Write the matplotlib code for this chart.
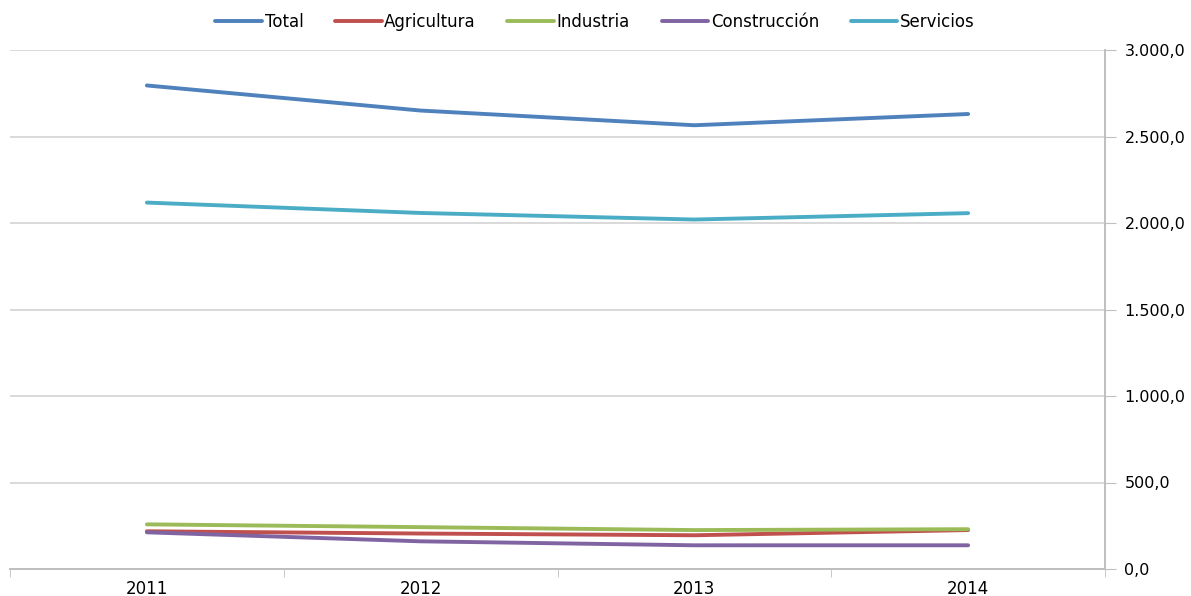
import matplotlib
matplotlib.use("Agg")
import matplotlib.pyplot as plt
from matplotlib.ticker import FuncFormatter, MultipleLocator

years = ["2011", "2012", "2013", "2014"]
total = [2795, 2650, 2565, 2630]
agricultura = [218, 205, 195, 225]
industria = [258, 242, 225, 230]
construccion = [212, 160, 137, 137]
servicios = [2118, 2058, 2020, 2057]

series = [
    ("Total", total, "#4F81BD"),
    ("Agricultura", agricultura, "#C0504D"),
    ("Industria", industria, "#9BBB59"),
    ("Construcción", construccion, "#8064A2"),
    ("Servicios", servicios, "#4BACC6"),
]

plt.rcParams['font.family'] = ['DejaVu Sans']
fig = plt.figure(figsize=(11.91, 5.96), dpi=100)
ax = fig.add_axes([10/1191, 1-569/596, (1105-10)/1191, (569-50)/596])

x = list(range(len(years)))
for name, vals, col in series:
    ax.plot(x, vals, color=col, lw=2.8, label=name, solid_capstyle='round')

ax.set_xlim(-0.5, 3.5)
ax.set_ylim(0, 3000)
ax.yaxis.set_major_locator(MultipleLocator(500))
ax.yaxis.tick_right()
ax.yaxis.set_major_formatter(FuncFormatter(
    lambda v, p: f"{v:,.1f}".replace(",", "X").replace(".", ",").replace("X", ".")))
ax.grid(axis='y', color='#D9D9D9', lw=1.4)
ax.set_axisbelow(True)

ax.set_xticks(x)
ax.set_xticklabels(years)
ax.set_xticks([-0.5, 0.5, 1.5, 2.5, 3.5], minor=True)
ax.tick_params(axis='x', which='major', length=0, pad=8, labelsize=12)
ax.tick_params(axis='x', which='minor', length=6, color='#BFBFBF', direction='out')
ax.tick_params(axis='y', which='major', length=8, color='#BFBFBF', labelsize=11.5, pad=6, right=True, left=False)

for s in ['top', 'left']:
    ax.spines[s].set_visible(False)
for s in ['bottom', 'right']:
    ax.spines[s].set_color('#BFBFBF')
    ax.spines[s].set_linewidth(1.4)

leg = fig.legend(loc='center', bbox_to_anchor=(595/1191, 1-22/596), ncol=5, frameon=False,
                 fontsize=12, handlelength=2.8, handletextpad=0.15, columnspacing=1.9)

fig.savefig("out.png", dpi=100)
